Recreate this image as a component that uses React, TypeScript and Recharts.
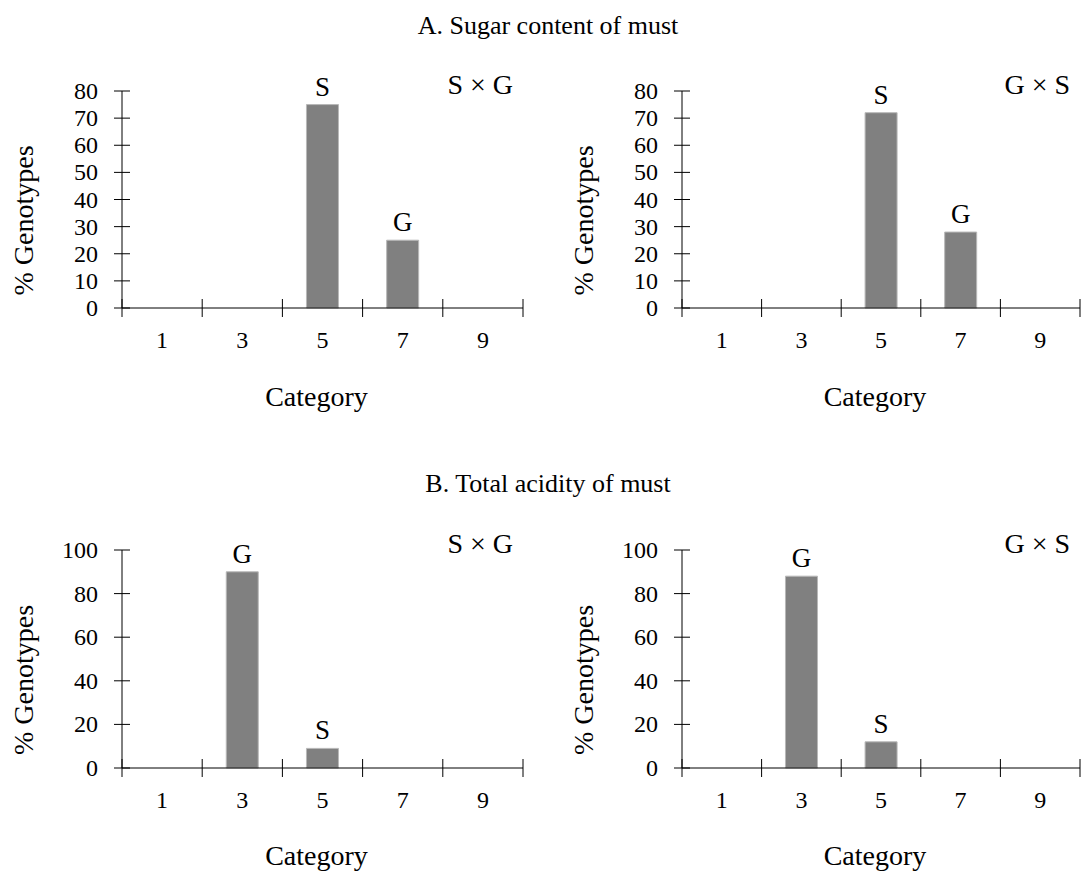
import { BarChart, Bar, XAxis, YAxis, Label, LabelList } from "recharts";

const FONT = '"Liberation Serif", "Times New Roman", serif';

// categories on the x axis
const categories = ["1", "3", "5", "7", "9"];

// A. sugar content (% genotypes)
const sugarSxG = [0, 0, 75, 25, 0];
const sugarGxS = [0, 0, 72, 28, 0];
const sugarTags = ["", "", "S", "G", ""];
const sugarTicks = [0, 10, 20, 30, 40, 50, 60, 70, 80];

// B. total acidity (% genotypes)
const acidSxG = [0, 90, 9, 0, 0];
const acidGxS = [0, 88, 12, 0, 0];
const acidTags = ["", "G", "S", "", ""];
const acidTicks = [0, 20, 40, 60, 80, 100];

const Y_AXIS_W = 122;

function rows(values: number[], tags: string[]) {
  return categories.map((c, i) => ({ category: c, pct: values[i], tag: tags[i] }));
}

function CategoryTick(props: any) {
  const { x, y, payload, index, half, last } = props;
  return (
    <g>
      <line x1={x - half} x2={x - half} y1={y - 9} y2={y + 9} stroke="#000" />
      {index === last && <line x1={x + half} x2={x + half} y1={y - 9} y2={y + 9} stroke="#000" />}
      <text x={x} y={y + 40} textAnchor="middle" fontFamily={FONT} fontSize={24} fill="#000">
        {payload.value}
      </text>
    </g>
  );
}

function ValueTick(props: any) {
  const { x, y, payload } = props;
  return (
    <g>
      <line x1={x - 8} x2={x + 8} y1={y} y2={y} stroke="#000" />
      <text x={x - 24} y={y + 8} textAnchor="end" fontFamily={FONT} fontSize={24} fill="#000">
        {payload.value}
      </text>
    </g>
  );
}

type PanelProps = {
  left: number;
  top: number;
  width: number;
  height: number;
  marginTop: number;
  marginRight: number;
  axisHeight: number;
  labelGap: number;
  values: number[];
  tags: string[];
  ticks: number[];
};

function Panel(p: PanelProps) {
  const plotWidth = p.width - Y_AXIS_W - p.marginRight;
  const half = plotWidth / categories.length / 2;
  const textStyle = { fontFamily: FONT, fontSize: 28, fill: "#000", stroke: "none" };
  return (
    <div style={{ position: "absolute", left: p.left, top: p.top }}>
      <BarChart
        width={p.width}
        height={p.height}
        data={rows(p.values, p.tags)}
        margin={{ top: p.marginTop, right: p.marginRight, bottom: 0, left: 0 }}
        barCategoryGap="30%"
      >
        <XAxis
          dataKey="category"
          height={p.axisHeight}
          interval={0}
          tickSize={0}
          tickMargin={0}
          tickLine={false}
          stroke="#000"
          tick={(t: any) => <CategoryTick {...t} half={half} last={categories.length - 1} />}
        >
          <Label
            value="Category"
            position="insideBottom"
            offset={p.axisHeight - p.labelGap}
            dx={-6}
            style={textStyle}
          />
        </XAxis>
        <YAxis
          width={Y_AXIS_W}
          domain={[0, p.ticks[p.ticks.length - 1]]}
          ticks={p.ticks}
          interval={0}
          tickSize={0}
          tickMargin={0}
          tickLine={false}
          stroke="#000"
          tick={(t: any) => <ValueTick {...t} />}
        >
          <Label
            value="% Genotypes"
            angle={-90}
            position="insideLeft"
            offset={23}
            dy={21}
            style={{ ...textStyle, textAnchor: "middle" }}
          />
        </YAxis>
        <Bar dataKey="pct" fill="#808080" stroke="#b8b8b8" strokeWidth={1} isAnimationActive={false}>
          <LabelList
            dataKey="tag"
            position="top"
            offset={9}
            fill="#000"
            stroke="none"
            fontFamily={FONT}
            fontSize={27}
          />
        </Bar>
      </BarChart>
    </div>
  );
}

export default function App() {
  const top = { top: 60, height: 370, marginTop: 31, axisHeight: 122, labelGap: 98, ticks: sugarTicks };
  const bottom = { top: 520, height: 352, marginTop: 30, axisHeight: 104, labelGap: 97, ticks: acidTicks };
  const leftCol = { left: 0, width: 541, marginRight: 18 };
  const rightCol = { left: 560, width: 523, marginRight: 3 };
  return (
    <div
      style={{
        position: "absolute",
        left: 0,
        top: 0,
        width: 1083,
        height: 872,
        overflow: "hidden",
        background: "#fff",
      }}
    >
      <Panel {...top} {...leftCol} values={sugarSxG} tags={sugarTags} />
      <Panel {...top} {...rightCol} values={sugarGxS} tags={sugarTags} />
      <Panel {...bottom} {...leftCol} values={acidSxG} tags={acidTags} />
      <Panel {...bottom} {...rightCol} values={acidGxS} tags={acidTags} />
      <svg
        width={1083}
        height={872}
        style={{ position: "absolute", left: 0, top: 0, pointerEvents: "none" }}
        fontFamily={FONT}
        fill="#000"
      >
        <text x={548} y={34} textAnchor="middle" fontSize={26}>A. Sugar content of must</text>
        <text x={548} y={492} textAnchor="middle" fontSize={26}>B. Total acidity of must</text>
        <text x={513} y={94} textAnchor="end" fontSize={28}>S × G</text>
        <text x={1070} y={94} textAnchor="end" fontSize={28}>G × S</text>
        <text x={513} y={553} textAnchor="end" fontSize={28}>S × G</text>
        <text x={1070} y={553} textAnchor="end" fontSize={28}>G × S</text>
      </svg>
    </div>
  );
}
